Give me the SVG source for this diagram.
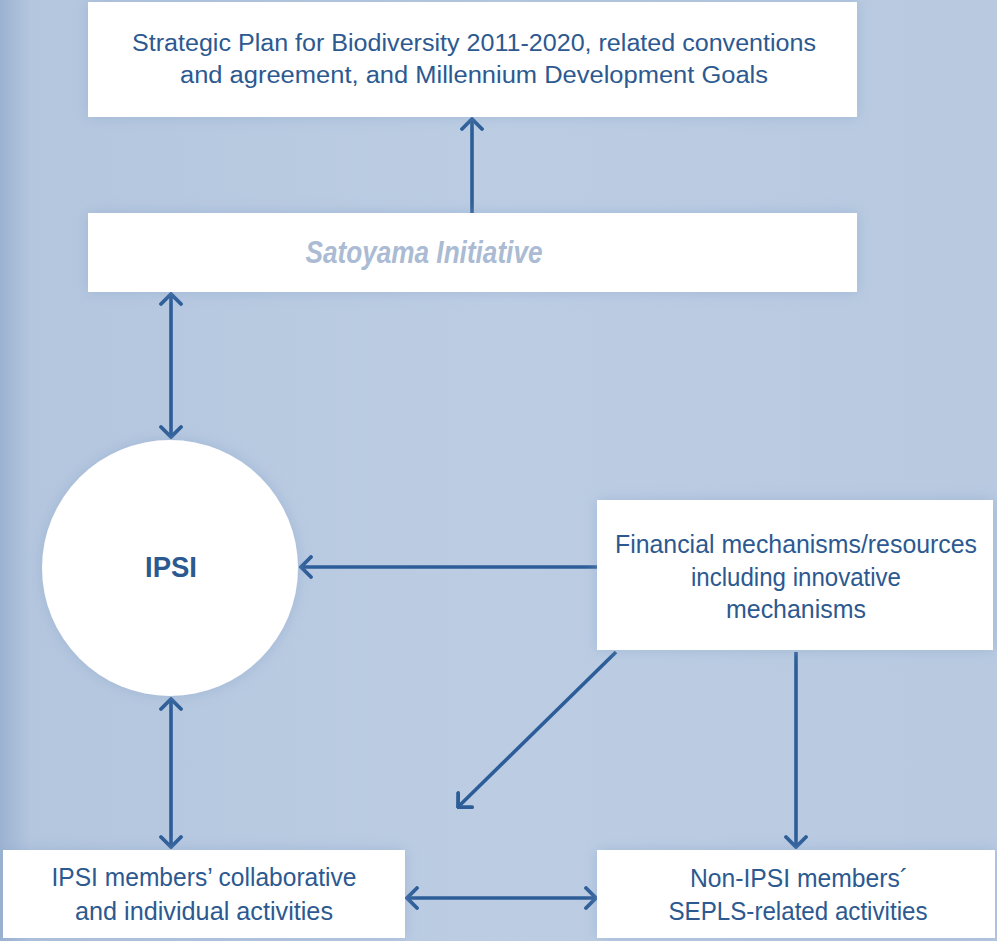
<svg xmlns="http://www.w3.org/2000/svg" width="997" height="941" viewBox="0 0 997 941">
<style>
.box{fill:#ffffff;filter:url(#sh)}
.t{font-family:"Liberation Sans",Arial,sans-serif;fill:#2c5990;text-anchor:middle}
.c{stroke:#2d5d98;stroke-width:3.6;fill:none;marker-end:url(#ah)}
.d{marker-start:url(#ah)}
</style>
<defs>
<marker id="ah" viewBox="-14 -12 16 24" markerWidth="16" markerHeight="24" refX="0" refY="0" orient="auto-start-reverse" markerUnits="userSpaceOnUse">
<path d="M-10,-10 L0,0 L-10,10" fill="none" stroke="#2d5d98" stroke-width="3.8" stroke-linecap="round" stroke-linejoin="miter"/>
</marker>
<filter id="sh" x="-10%" y="-20%" width="120%" height="140%">
<feGaussianBlur in="SourceAlpha" stdDeviation="7"/>
<feColorMatrix type="matrix" values="0 0 0 0 0.25  0 0 0 0 0.38  0 0 0 0 0.6  0 0 0 0.5 0"/>
<feMerge><feMergeNode/><feMergeNode in="SourceGraphic"/></feMerge>
</filter>
<linearGradient id="bgL" x1="0" y1="0" x2="1" y2="0">
<stop offset="0" stop-color="#9cb2d1"/>
<stop offset="0.03" stop-color="#b4c6de"/>
<stop offset="0.5" stop-color="#bccde3"/>
<stop offset="1" stop-color="#b8c9e0"/>
</linearGradient>
</defs>
<rect x="0" y="0" width="997" height="941" fill="url(#bgL)"/>

<g id="connectors">
<line class="c" x1="472" y1="213" x2="472" y2="119"/>
<line class="c d" x1="171" y1="294" x2="171" y2="437"/>
<line class="c" x1="597" y1="567" x2="301" y2="567"/>
<line class="c" x1="616" y1="652" x2="458" y2="807"/>
<line class="c" x1="796" y1="652" x2="796" y2="847"/>
<line class="c d" x1="171" y1="699" x2="171" y2="847"/>
<line class="c d" x1="407" y1="898" x2="596" y2="898"/>
</g>

<g id="strategic-plan">
<rect class="box" x="88" y="2" width="769" height="115"/>
<text class="t" x="474" y="51" font-size="23" textLength="684" lengthAdjust="spacingAndGlyphs">Strategic Plan for Biodiversity 2011-2020, related conventions</text>
<text class="t" x="474" y="83" font-size="23" textLength="588" lengthAdjust="spacingAndGlyphs">and agreement, and Millennium Development Goals</text>
</g>

<g id="satoyama">
<rect class="box" x="88" y="213" width="769" height="79"/>
<text class="t" x="424" y="263" font-size="31" font-weight="bold" font-style="italic" style="fill:#aabbd3" textLength="237" lengthAdjust="spacingAndGlyphs">Satoyama Initiative</text>
</g>

<g id="ipsi">
<circle cx="170" cy="568" r="128" fill="#ffffff" filter="url(#sh)"/>
<text class="t" x="171" y="577" font-size="30" font-weight="bold" textLength="52" lengthAdjust="spacingAndGlyphs">IPSI</text>
</g>

<g id="financial">
<rect class="box" x="597" y="500" width="396" height="150"/>
<text class="t" x="796" y="553" font-size="25" textLength="362" lengthAdjust="spacingAndGlyphs">Financial mechanisms/resources</text>
<text class="t" x="796" y="586" font-size="25" textLength="210" lengthAdjust="spacingAndGlyphs">including innovative</text>
<text class="t" x="796" y="618" font-size="25" textLength="140" lengthAdjust="spacingAndGlyphs">mechanisms</text>
</g>

<g id="ipsi-members">
<rect class="box" x="3" y="850" width="402" height="88"/>
<text class="t" x="204" y="886" font-size="25" textLength="305" lengthAdjust="spacingAndGlyphs">IPSI members’ collaborative</text>
<text class="t" x="204" y="920" font-size="25" textLength="258" lengthAdjust="spacingAndGlyphs">and individual activities</text>
</g>

<g id="non-ipsi">
<rect class="box" x="597" y="850" width="398" height="88"/>
<text class="t" x="799" y="887" font-size="25" textLength="218" lengthAdjust="spacingAndGlyphs">Non-IPSI members´</text>
<text class="t" x="798" y="920" font-size="25" textLength="259" lengthAdjust="spacingAndGlyphs">SEPLS-related activities</text>
</g>
</svg>
